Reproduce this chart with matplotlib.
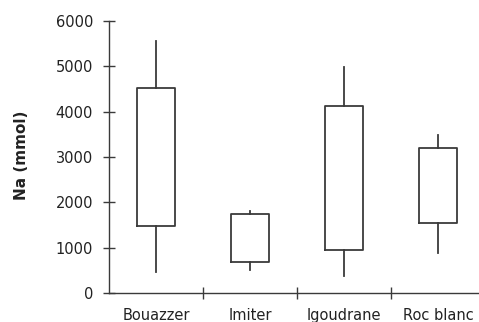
import matplotlib
matplotlib.use("Agg")
import matplotlib.pyplot as plt

categories = ["Bouazzer", "Imiter", "Igoudrane", "Roc blanc"]
whisker_low = [460, 515, 370, 880]
box_low = [1485, 690, 950, 1545]
box_high = [4525, 1750, 4130, 3205]
whisker_high = [5555, 1810, 4995, 3485]

yticks = [0, 1000, 2000, 3000, 4000, 5000, 6000]
ylabel = "Na (mmol)"

W, H = 479, 322
fig = plt.figure(figsize=(W / 100, H / 100), dpi=100)
left, right = 109, 485
top, bottom = 21, 293
ax = fig.add_axes([left / W, (H - bottom) / H, (right - left) / W, (bottom - top) / H])

col = "#3a3a3a"
stats = []
for i, c in enumerate(categories):
    stats.append(dict(label=c, whislo=whisker_low[i], q1=box_low[i], med=box_low[i],
                      q3=box_high[i], whishi=whisker_high[i], fliers=[]))
positions = list(range(1, len(categories) + 1))
ax.bxp(stats, positions=positions, widths=0.40, showcaps=False, showfliers=False,
       boxprops=dict(color=col, linewidth=1.3),
       whiskerprops=dict(color=col, linewidth=1.3),
       medianprops=dict(linewidth=0, color="none"))

ax.set_xlim(0.5, len(categories) + 0.5)
ax.set_ylim(0, 6000)
ax.set_yticks(yticks)
ax.set_yticklabels([str(v) for v in yticks])
ax.set_xticks([p + 0.5 for p in positions[:-1]])
ax.set_xticklabels([])
ax.set_xticks(positions, minor=True)
ax.set_xticklabels(categories, minor=True)

fs = 10.5
ax.tick_params(axis="y", direction="inout", length=8, width=1, color=col, pad=7.5,
               labelsize=fs, labelcolor="#222222")
ax.tick_params(axis="x", which="major", direction="inout", length=8, width=1, color=col)
ax.tick_params(axis="x", which="minor", length=0, pad=11, labelsize=fs, labelcolor="#222222")

for s in ["top", "right"]:
    ax.spines[s].set_visible(False)
for s in ["left", "bottom"]:
    ax.spines[s].set_color(col)
    ax.spines[s].set_linewidth(1)

fig.text(22 / W, 1 - 155 / H, ylabel, rotation=90, ha="center", va="center",
         fontsize=11, fontweight="bold", color="#222222")

fig.savefig("out.png", dpi=100)
